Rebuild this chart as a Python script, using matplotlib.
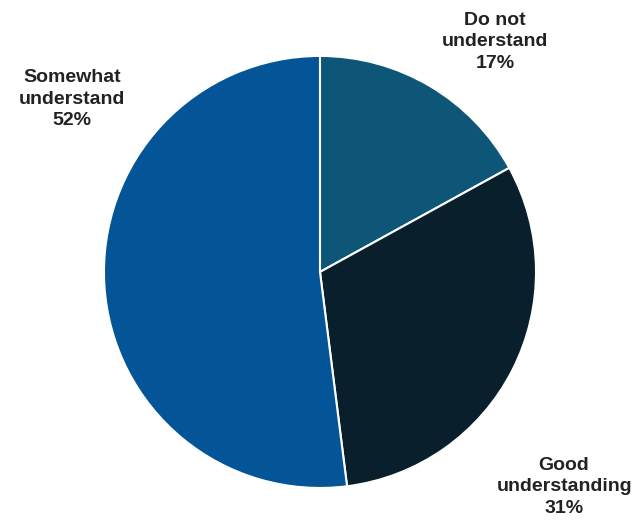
import matplotlib.pyplot as plt

labels = ["Do not\nunderstand", "Good\nunderstanding", "Somewhat\nunderstand"]
values = [17, 31, 52]
colors = ["#0d5677", "#0a1f2c", "#035597"]
# label centres in axis data units (pie radius = 1)
label_pos = [(0.81, 1.065), (1.13, -0.995), (-1.148, 0.80)]

fig = plt.figure(figsize=(6.41, 5.25), dpi=100)
ax = fig.add_axes([0.1622, 0.0705, 0.674, 0.823])

ax.pie(values, colors=colors, startangle=90, counterclock=False,
       radius=1, wedgeprops=dict(edgecolor="white", linewidth=1.5))

for lab, v, (x, y) in zip(labels, values, label_pos):
    ax.text(x, y, f"{lab}\n{v}%", ha="center", va="center",
            fontsize=14, fontweight="bold", color="#222222",
            family="Liberation Sans", linespacing=1.35)

ax.set_xlim(-1, 1)
ax.set_ylim(-1, 1)
ax.set_aspect("equal")
ax.axis("off")

fig.savefig("out.png", dpi=100)
